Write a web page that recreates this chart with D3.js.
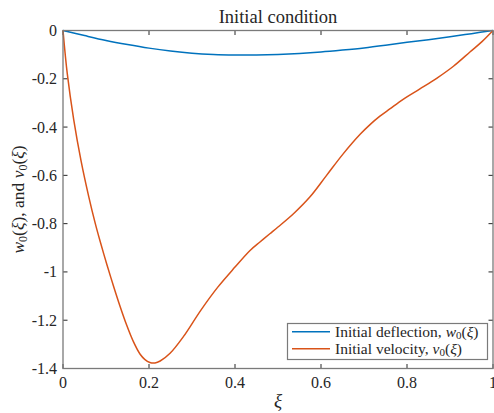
<!DOCTYPE html>
<html><head><meta charset="utf-8">
<script src="https://cdn.jsdelivr.net/npm/d3@7"></script>
<style>body{margin:0;background:#fff}svg{display:block}text{font-family:"Liberation Serif","Times New Roman",serif;fill:#262626}</style>
</head><body><svg id="c" width="494" height="413"></svg>
<script>
const xiW = [0,0.05,0.1,0.15,0.2,0.25,0.3,0.35,0.4,0.45,0.5,0.55,0.6,0.65,0.7,0.75,0.8,0.85,0.9,0.95,1];
const wVals = [0,-0.021,-0.041,-0.058,-0.073,-0.085,-0.094,-0.099,-0.101,-0.101,-0.099,-0.095,-0.089,-0.081,-0.072,-0.061,-0.049,-0.038,-0.026,-0.013,0];
const xiV = [0,0.01,0.025,0.042,0.06,0.075,0.086,0.102,0.117,0.133,0.148,0.164,0.179,0.19,0.202,0.214,0.226,0.249,0.28,0.32,0.36,0.4,0.435,0.458,0.481,0.5,0.536,0.574,0.613,0.652,0.691,0.714,0.737,0.76,0.791,0.83,0.869,0.908,0.947,0.975,1];
const vVals = [0,-0.18,-0.37,-0.54,-0.689,-0.799,-0.871,-0.969,-1.056,-1.144,-1.22,-1.29,-1.34,-1.362,-1.375,-1.377,-1.369,-1.337,-1.268,-1.16,-1.063,-0.98,-0.911,-0.876,-0.842,-0.814,-0.759,-0.69,-0.6,-0.51,-0.43,-0.39,-0.355,-0.325,-0.285,-0.242,-0.198,-0.148,-0.088,-0.045,0];
const xTicks = [0,0.2,0.4,0.6,0.8,1];
const yTicks = [0,-0.2,-0.4,-0.6,-0.8,-1,-1.2,-1.4];

const svg = d3.select("#c");
const L=63, R=493, T=30.5, B=368.5;
const x = d3.scaleLinear().domain([0,1]).range([L,R]);
const y = d3.scaleLinear().domain([-1.4,0]).range([B,T]);
const fmt = d => d===0?"0":(d<0?"-":"")+String(Math.abs(d));

const g = svg.append("g");
xTicks.forEach(t=>{
  g.append("line").attr("x1",x(t)).attr("x2",x(t)).attr("y1",B).attr("y2",B-4.5).attr("stroke","#262626");
  g.append("line").attr("x1",x(t)).attr("x2",x(t)).attr("y1",T).attr("y2",T+4.5).attr("stroke","#262626");
  g.append("text").attr("x",x(t)).attr("y",387.5).attr("text-anchor","middle").attr("font-size",16).text(fmt(t));
});
yTicks.forEach(t=>{
  g.append("line").attr("x1",L).attr("x2",L+4.5).attr("y1",y(t)).attr("y2",y(t)).attr("stroke","#262626");
  g.append("line").attr("x1",R).attr("x2",R-4.5).attr("y1",y(t)).attr("y2",y(t)).attr("stroke","#262626");
  g.append("text").attr("x",57).attr("y",y(t)+5.5).attr("text-anchor","end").attr("font-size",16).text(fmt(t));
});

const line = (xs,vs)=>d3.line().x((d,i)=>x(xs[i])).y(d=>y(d)).curve(d3.curveCatmullRom.alpha(0.5))(vs);
svg.append("path").attr("d",line(xiW,wVals)).attr("fill","none").attr("stroke","#0072BD").attr("stroke-width",1.5);
svg.append("path").attr("d",line(xiV,vVals)).attr("fill","none").attr("stroke","#D95319").attr("stroke-width",1.5);

svg.append("rect").attr("x",L).attr("y",T).attr("width",R-L).attr("height",B-T).attr("fill","none").attr("stroke","#7a7a7a").attr("stroke-width",1.3);

svg.append("text").attr("x",(L+R)/2).attr("y",23).attr("text-anchor","middle").attr("font-size",18.5).text("Initial condition");
svg.append("text").attr("x",(L+R)/2).attr("y",407).attr("text-anchor","middle").attr("font-size",19).attr("font-style","italic").text("ξ");
const yl = svg.append("text").attr("transform",`translate(24,${(T+B)/2}) rotate(-90)`).attr("text-anchor","middle").attr("font-size",17.5);
yl.append("tspan").attr("font-style","italic").text("w");
yl.append("tspan").attr("font-size",12).attr("dy",3).text("0");
yl.append("tspan").attr("dy",-3).text("(");
yl.append("tspan").attr("font-style","italic").text("ξ");
yl.append("tspan").text("), and ");
yl.append("tspan").attr("font-style","italic").text("v");
yl.append("tspan").attr("font-size",12).attr("dy",3).text("0");
yl.append("tspan").attr("dy",-3).text("(");
yl.append("tspan").attr("font-style","italic").text("ξ");
yl.append("tspan").text(")");

const lg = svg.append("g");
lg.append("rect").attr("x",287.5).attr("y",323.5).attr("width",200).attr("height",36).attr("fill","#fff").attr("stroke","#7a7a7a").attr("stroke-width",1.2);
const items = [["Initial deflection, ","w","#0072BD"],["Initial velocity, ","v","#D95319"]];
items.forEach((it,i)=>{
  const yy = 331.7 + i*17;
  lg.append("line").attr("x1",292).attr("x2",330).attr("y1",yy).attr("y2",yy).attr("stroke",it[2]).attr("stroke-width",1.5);
  const t = lg.append("text").attr("x",335).attr("y",yy+5).attr("font-size",15.5);
  t.append("tspan").text(it[0]);
  t.append("tspan").attr("font-style","italic").text(it[1]);
  t.append("tspan").attr("font-size",11).attr("dy",2.5).text("0");
  t.append("tspan").attr("dy",-2.5).text("(");
  t.append("tspan").attr("font-style","italic").text("ξ");
  t.append("tspan").text(")");
});
</script></body></html>
